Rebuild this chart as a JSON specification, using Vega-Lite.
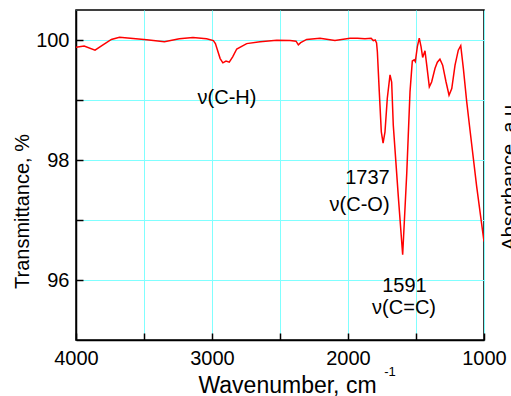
{
  "$schema": "https://vega.github.io/schema/vega-lite/v6.json",
  "width": 408,
  "height": 330,
  "autosize": "none",
  "padding": {"left": 76, "top": 10, "right": 27, "bottom": 56},
  "background": "white",
  "config": {
    "view": {"stroke": "black", "strokeWidth": 1.5},
    "font": "Liberation Sans",
    "axis": {
      "gridColor": "#80ffff",
      "gridWidth": 1,
      "gridOpacity": 1,
      "domainColor": "black",
      "domainWidth": 1.5,
      "tickColor": "black",
      "tickWidth": 1.5,
      "tickSize": -7,
      "labelColor": "black",
      "labelFont": "Liberation Sans",
      "labelFontSize": 20,
      "titleColor": "black",
      "titleFont": "Liberation Sans",
      "titleFontWeight": "normal",
      "titleFontSize": 23
    }
  },
  "datasets": {
    "spectrum": [
      {"wavenumber": 4000, "T": 99.88},
      {"wavenumber": 3940, "T": 99.9},
      {"wavenumber": 3860, "T": 99.83},
      {"wavenumber": 3810, "T": 99.905},
      {"wavenumber": 3740, "T": 100.01},
      {"wavenumber": 3680, "T": 100.045},
      {"wavenumber": 3600, "T": 100.03},
      {"wavenumber": 3480, "T": 100.005},
      {"wavenumber": 3350, "T": 99.97},
      {"wavenumber": 3240, "T": 100.02},
      {"wavenumber": 3140, "T": 100.04},
      {"wavenumber": 3040, "T": 100.02},
      {"wavenumber": 2990, "T": 99.99},
      {"wavenumber": 2975, "T": 99.94},
      {"wavenumber": 2940, "T": 99.69},
      {"wavenumber": 2920, "T": 99.62},
      {"wavenumber": 2897, "T": 99.65},
      {"wavenumber": 2873, "T": 99.63},
      {"wavenumber": 2848, "T": 99.72},
      {"wavenumber": 2818, "T": 99.85},
      {"wavenumber": 2745, "T": 99.94},
      {"wavenumber": 2647, "T": 99.97},
      {"wavenumber": 2524, "T": 99.995},
      {"wavenumber": 2426, "T": 99.99},
      {"wavenumber": 2382, "T": 99.98},
      {"wavenumber": 2365, "T": 99.92},
      {"wavenumber": 2348, "T": 99.955},
      {"wavenumber": 2304, "T": 100.01},
      {"wavenumber": 2206, "T": 100.03},
      {"wavenumber": 2096, "T": 99.99},
      {"wavenumber": 1985, "T": 100.03},
      {"wavenumber": 1930, "T": 100.03},
      {"wavenumber": 1875, "T": 100.02},
      {"wavenumber": 1830, "T": 100.03},
      {"wavenumber": 1814, "T": 99.99},
      {"wavenumber": 1800, "T": 100.0},
      {"wavenumber": 1790, "T": 99.95},
      {"wavenumber": 1784, "T": 99.8},
      {"wavenumber": 1770, "T": 99.14},
      {"wavenumber": 1755, "T": 98.47},
      {"wavenumber": 1742, "T": 98.28},
      {"wavenumber": 1728, "T": 98.47},
      {"wavenumber": 1711, "T": 99.03},
      {"wavenumber": 1691, "T": 99.42},
      {"wavenumber": 1679, "T": 99.3},
      {"wavenumber": 1667, "T": 98.58},
      {"wavenumber": 1630, "T": 97.39},
      {"wavenumber": 1598, "T": 96.42},
      {"wavenumber": 1568, "T": 97.78},
      {"wavenumber": 1557, "T": 98.4},
      {"wavenumber": 1544, "T": 99.14},
      {"wavenumber": 1527, "T": 99.65},
      {"wavenumber": 1513, "T": 99.67},
      {"wavenumber": 1505, "T": 99.64},
      {"wavenumber": 1490, "T": 99.89},
      {"wavenumber": 1476, "T": 100.03},
      {"wavenumber": 1463, "T": 99.89},
      {"wavenumber": 1451, "T": 99.71},
      {"wavenumber": 1434, "T": 99.82},
      {"wavenumber": 1421, "T": 99.58},
      {"wavenumber": 1402, "T": 99.22},
      {"wavenumber": 1385, "T": 99.3},
      {"wavenumber": 1360, "T": 99.53},
      {"wavenumber": 1343, "T": 99.63},
      {"wavenumber": 1324, "T": 99.68},
      {"wavenumber": 1304, "T": 99.58},
      {"wavenumber": 1279, "T": 99.3},
      {"wavenumber": 1257, "T": 99.08},
      {"wavenumber": 1237, "T": 99.19},
      {"wavenumber": 1213, "T": 99.58},
      {"wavenumber": 1189, "T": 99.83},
      {"wavenumber": 1171, "T": 99.905},
      {"wavenumber": 1152, "T": 99.53},
      {"wavenumber": 1127, "T": 98.97},
      {"wavenumber": 1103, "T": 98.5},
      {"wavenumber": 1054, "T": 97.56},
      {"wavenumber": 1000, "T": 96.64}
    ],
    "annotations": [
      {"x": 2890, "y": 99.03, "text": "ν(C-H)"},
      {"x": 1857, "y": 97.7, "text": "1737"},
      {"x": 1915, "y": 97.25, "text": "ν(C-O)"},
      {"x": 1585, "y": 95.9, "text": "1591"},
      {"x": 1588, "y": 95.53, "text": "ν(C=C)"}
    ],
    "superscript": [
      {"x": 1691, "y": 94.46, "text": "-1"}
    ],
    "sidetitle": [
      {"x": 809, "y": 97.75, "text": "Absorbance, a.u."}
    ]
  },
  "layer": [
    {
      "data": {"name": "spectrum"},
      "mark": {"type": "line", "color": "#ff0000", "strokeWidth": 1.5, "clip": true},
      "encoding": {
        "x": {
          "field": "wavenumber",
          "type": "quantitative",
          "scale": {"domain": [4000, 1000], "nice": false, "zero": false},
          "axis": {
            "values": [4000, 3500, 3000, 2500, 2000, 1500, 1000],
            "format": "d",
            "labelExpr": "datum.value % 1000 === 0 ? datum.label : ''",
            "labelPadding": 15,
            "labelFlush": false,
            "title": "Wavenumber, cm",
            "titleX": 211,
            "titleY": 52,
            "titleBaseline": "alphabetic",
            "titleAlign": "center"
          }
        },
        "y": {
          "field": "T",
          "type": "quantitative",
          "scale": {"domain": [95, 100.5], "nice": false, "zero": false},
          "axis": {
            "values": [96, 97, 98, 99, 100],
            "format": "d",
            "labelExpr": "datum.value % 2 === 0 ? datum.label : ''",
            "labelPadding": 14,
            "title": "Transmittance, %",
            "titleX": -54,
            "titleY": 201,
            "titleAngle": -90,
            "titleAlign": "center",
            "titleBaseline": "middle",
            "titleFontSize": 20
          }
        }
      }
    },
    {
      "data": {"name": "annotations"},
      "mark": {"type": "text", "font": "Liberation Sans", "fontSize": 20, "color": "black", "align": "center", "baseline": "middle"},
      "encoding": {
        "x": {"field": "x", "type": "quantitative"},
        "y": {"field": "y", "type": "quantitative"},
        "text": {"field": "text"}
      }
    },
    {
      "data": {"name": "superscript"},
      "mark": {"type": "text", "font": "Liberation Sans", "fontSize": 13, "color": "black", "align": "center", "baseline": "middle", "clip": false},
      "encoding": {
        "x": {"field": "x", "type": "quantitative"},
        "y": {"field": "y", "type": "quantitative"},
        "text": {"field": "text"}
      }
    },
    {
      "data": {"name": "sidetitle"},
      "mark": {"type": "text", "font": "Liberation Sans", "fontSize": 20, "color": "black", "align": "center", "baseline": "middle", "angle": 270, "clip": false},
      "encoding": {
        "x": {"field": "x", "type": "quantitative"},
        "y": {"field": "y", "type": "quantitative"},
        "text": {"field": "text"}
      }
    }
  ]
}
